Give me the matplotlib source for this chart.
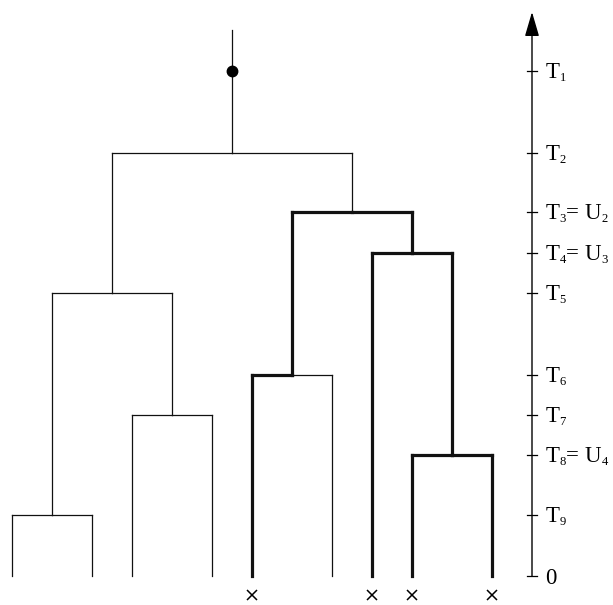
import matplotlib
matplotlib.use('Agg')
import matplotlib.pyplot as plt
import matplotlib._mathtext as mt

plt.rcParams['font.family'] = ['Liberation Serif', 'DejaVu Serif']
plt.rcParams['mathtext.fontset'] = 'custom'
plt.rcParams['mathtext.rm'] = 'Liberation Serif'
plt.rcParams['mathtext.it'] = 'Liberation Serif:italic'
mt.SHRINK_FACTOR = 0.55  # smaller subscripts, like the original typesetting

# time levels on the right axis (0 at the leaves)
tick_heights = [0, 61, 121, 161, 201, 283, 323, 364, 423, 505]
tick_labels = ['0', r'T$_9$', r'T$_8$= U$_4$', r'T$_7$', r'T$_6$', r'T$_5$',
               r'T$_4$= U$_3$', r'T$_3$= U$_2$', r'T$_2$', r'T$_1$']

# leaves (position along x) and which of them are marked with a cross
leaf_pos = [0, 2, 3, 5, 6, 8, 9, 10, 12]
crossed = [4, 6, 7, 8]

# merges: (child a, child b, height); new nodes get the next index
merges = [(0, 1, 61), (2, 3, 161), (9, 10, 283), (4, 5, 201),
          (7, 8, 121), (6, 13, 323), (12, 14, 364), (11, 15, 423)]
root_top = 546
dot_height = 505

fig = plt.figure(figsize=(6.13, 6.05), dpi=100)
ax = fig.add_axes([0, 0, 1, 1])
ax.set_xlim(-0.3, 15.025)
ax.set_ylim(-29, 576)
ax.axis('off')

# build node positions, heights and crossed-leaf counts
xs = list(leaf_pos)
hs = [0] * len(leaf_pos)
cnt = [1 if i in crossed else 0 for i in range(len(leaf_pos))]
for a, b, h in merges:
    xs.append((xs[a] + xs[b]) / 2)
    hs.append(h)
    cnt.append(cnt[a] + cnt[b])

total = len(crossed)
thin, thick = 0.9, 2.3

def lw(node):
    return thick if 0 < cnt[node] < total else thin

for k, (a, b, h) in enumerate(merges):
    parent = len(leaf_pos) + k
    for c in (a, b):
        w = lw(c)
        ax.plot([xs[c], xs[c]], [hs[c], h], color='#111111', lw=w,
                solid_capstyle='projecting')
        ax.plot([xs[c], xs[parent]], [h, h], color='#111111', lw=w,
                solid_capstyle='projecting')

root = len(xs) - 1
ax.plot([xs[root], xs[root]], [hs[root], root_top], color='#111111', lw=thin)
ax.plot(xs[root], dot_height, 'o', color='black', markersize=7.5)

# crosses under the sampled leaves
ax.plot([leaf_pos[i] for i in crossed], [-19] * len(crossed), 'x',
        color='black', markersize=7, mew=1.1)

# time axis with arrow
axis_x = 13
ax.annotate('', xy=(axis_x, 564), xytext=(axis_x, 0),
            arrowprops=dict(arrowstyle='-|>,head_length=0.75,head_width=0.22',
                            lw=1.0, color='black', mutation_scale=20,
                            shrinkA=0, shrinkB=0))
for h, lab in zip(tick_heights, tick_labels):
    ax.plot([axis_x - 0.13, axis_x + 0.13], [h, h], color='black', lw=0.9)
    ax.text(axis_x + 0.33, h - 7.5, lab, fontsize=16.5, va='baseline', ha='left')

fig.savefig('out.png', dpi=100)
